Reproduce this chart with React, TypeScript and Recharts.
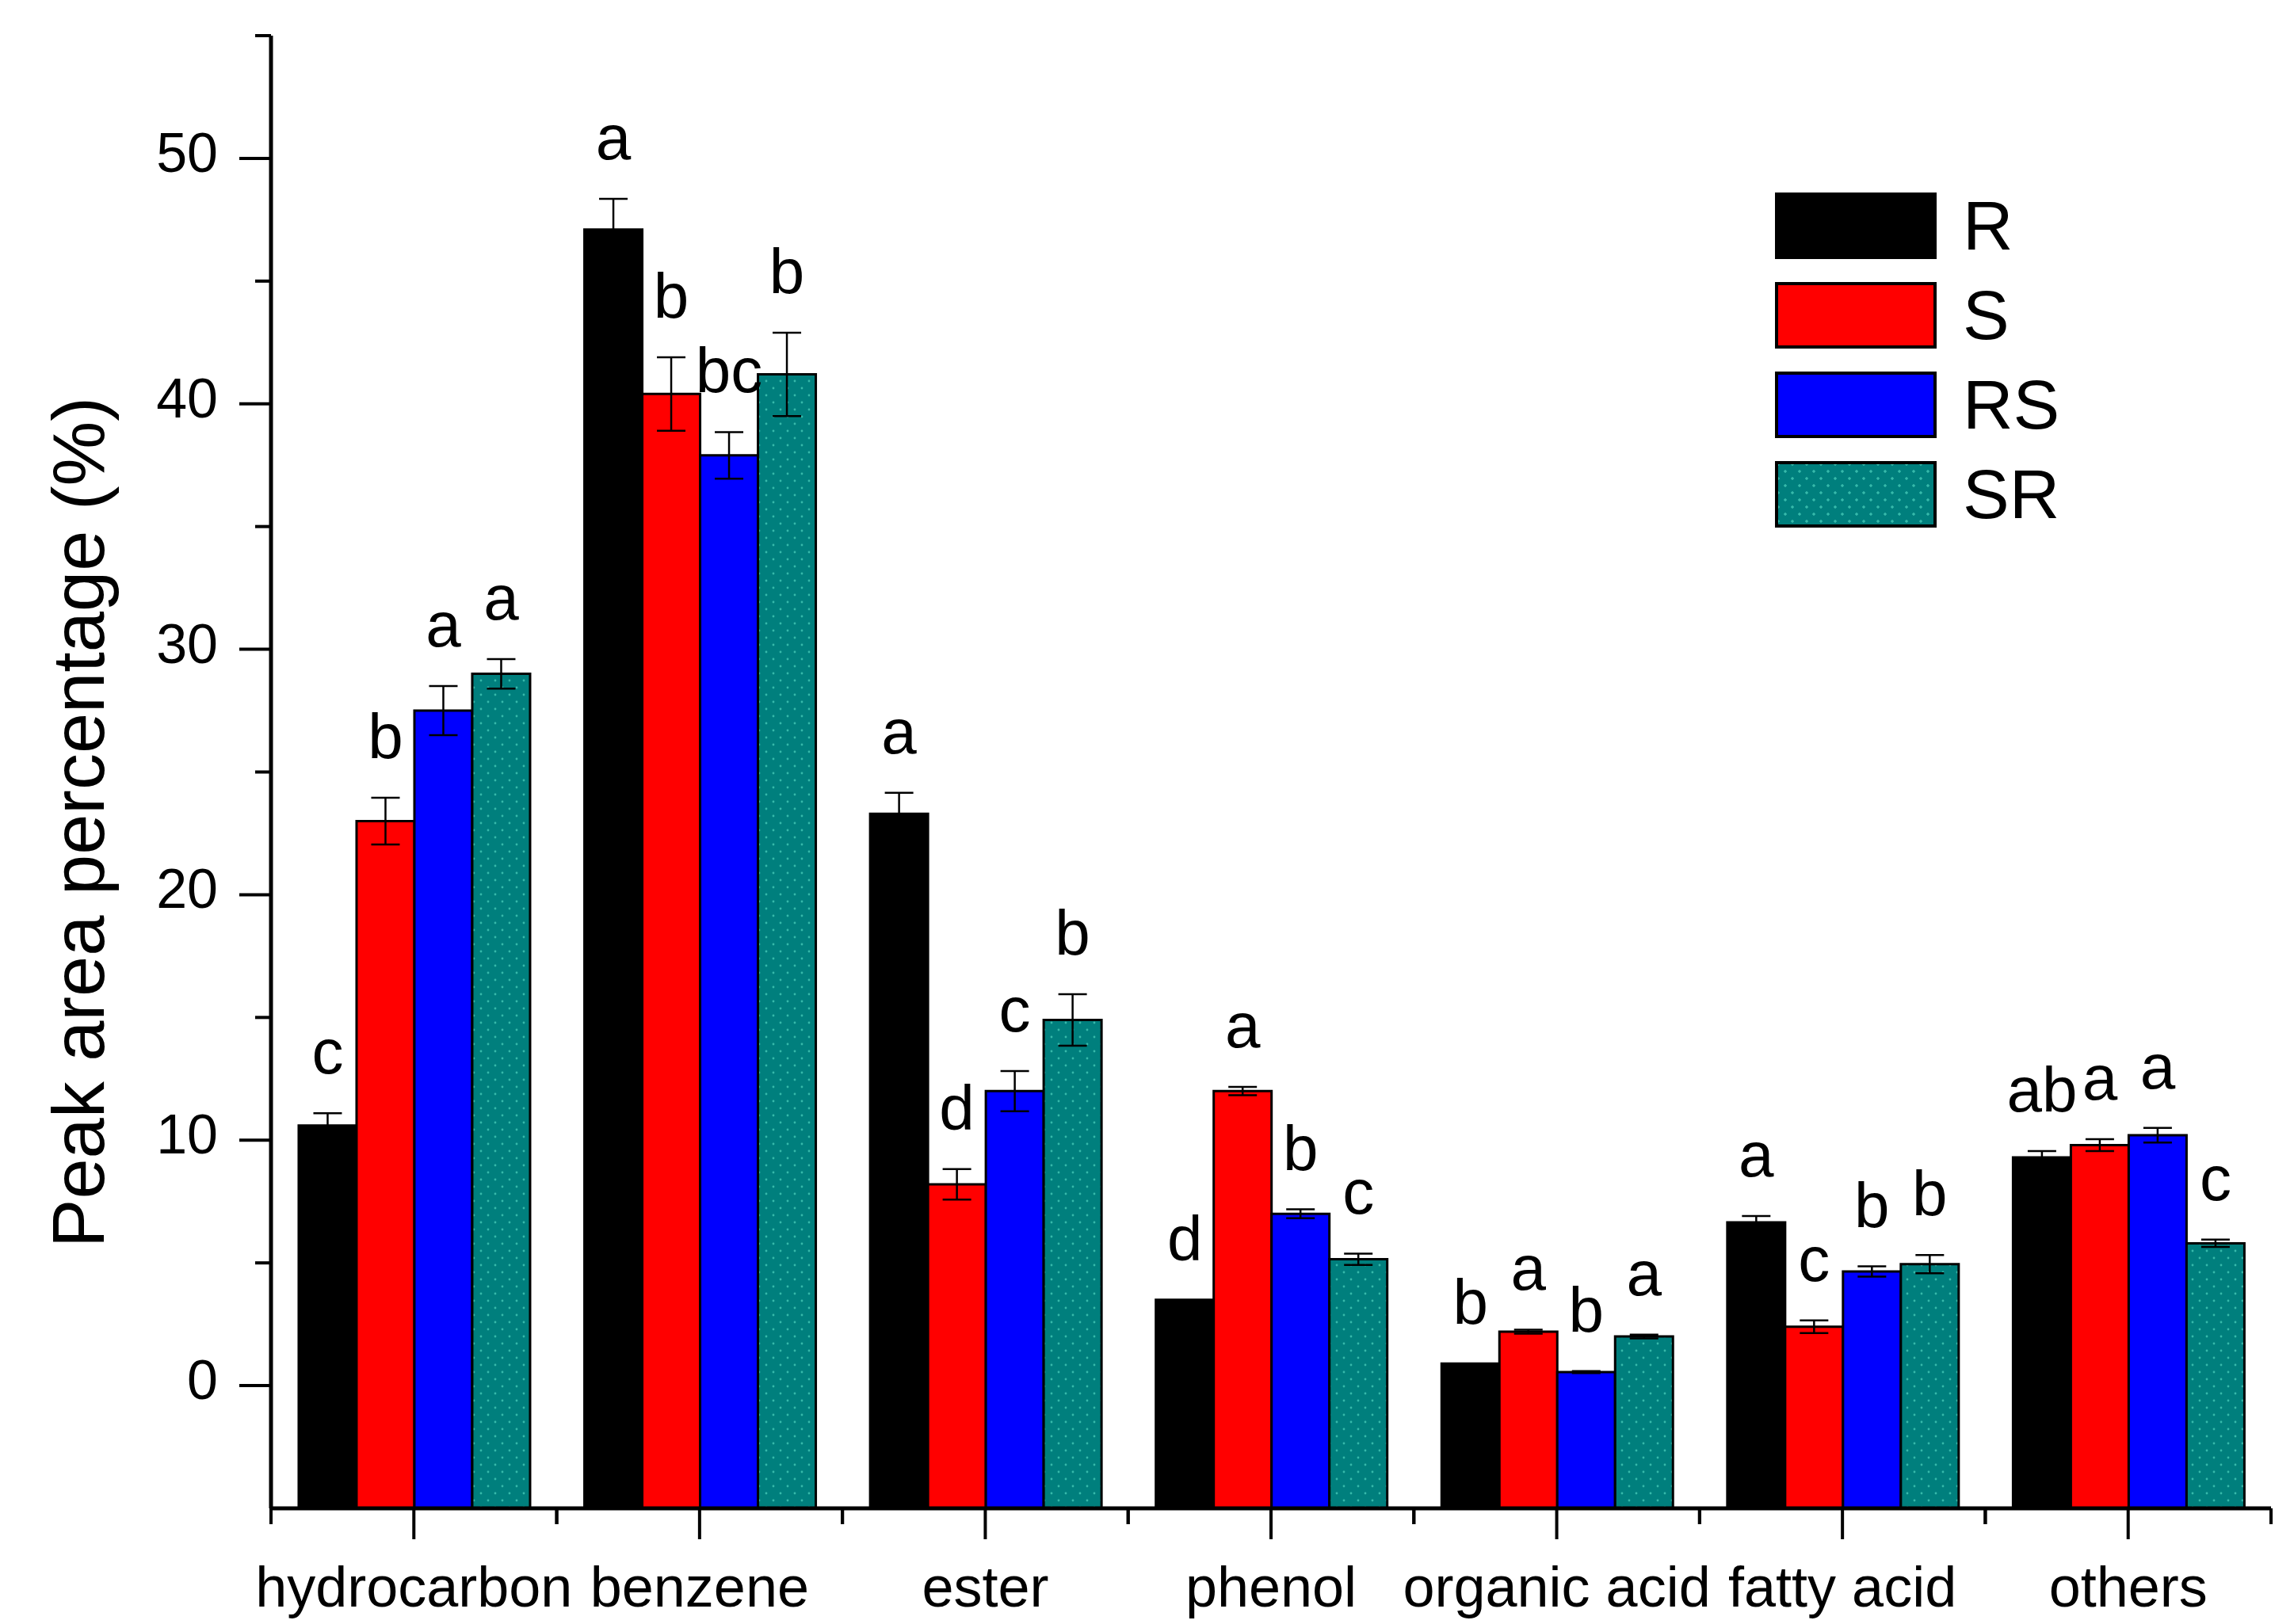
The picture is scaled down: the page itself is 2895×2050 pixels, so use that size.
import React from "react";
import { BarChart, Bar, XAxis, YAxis, ErrorBar, LabelList, Legend, Label } from "recharts";

const FONT = "Arial, 'Liberation Sans', sans-serif";

const categories = ["hydrocarbon", "benzene", "ester", "phenol", "organic acid", "fatty acid", "others"];

const rValues = [10.6, 47.1, 23.3, 3.5, 0.9, 6.65, 9.3];
const sValues = [23.0, 40.4, 8.2, 12.0, 2.2, 2.4, 9.8];
const rsValues = [27.5, 37.9, 12.0, 7.0, 0.55, 4.65, 10.2];
const srValues = [29.0, 41.2, 14.9, 5.15, 2.0, 4.95, 5.8];

const rErrors = [0.5, 1.25, 0.85, 0, 0, 0.26, 0.26];
const sErrors = [0.95, 1.5, 0.62, 0.17, 0.08, 0.26, 0.24];
const rsErrors = [1.0, 0.95, 0.82, 0.18, 0.04, 0.21, 0.3];
const srErrors = [0.6, 1.7, 1.05, 0.23, 0.08, 0.37, 0.15];

const rLetters = ["c", "a", "a", "d", "b", "a", "ab"];
const sLetters = ["b", "b", "d", "a", "a", "c", "a"];
const rsLetters = ["a", "bc", "c", "b", "b", "b", "a"];
const srLetters = ["a", "b", "b", "c", "a", "b", "c"];

const yTicks = [0, 5, 10, 15, 20, 25, 30, 35, 40, 45, 50, 55];
const Y_MIN = -5;
const Y_MAX = 55;

// layout
const W = 2895;
const H = 2050;
const MARGIN = { top: 45, right: 29, left: 0, bottom: 0 };
const Y_AXIS_W = 342;
const X_AXIS_H = 146;
const PX_PER_UNIT = (H - MARGIN.top - X_AXIS_H) / (Y_MAX - Y_MIN);
const HALF_BAND = (W - Y_AXIS_W - MARGIN.right) / categories.length / 2;

const TEAL = "#007f7d";
const DOT = "#36b9aa";

const series = [
  { key: "R", fill: "#000000", css: "#000000", errKey: "rErr", sigKey: "rSig", errs: rErrors },
  { key: "S", fill: "#ff0000", css: "#ff0000", errKey: "sErr", sigKey: "sSig", errs: sErrors },
  { key: "RS", fill: "#0000ff", css: "#0000ff", errKey: "rsErr", sigKey: "rsSig", errs: rsErrors },
  {
    key: "SR",
    fill: "url(#srDots)",
    css: `radial-gradient(circle, ${DOT} 1.4px, transparent 2px) 0 0 / 18px 18px, radial-gradient(circle, ${DOT} 1.4px, transparent 2px) 9px 9px / 18px 18px, ${TEAL}`,
    errKey: "srErr",
    sigKey: "srSig",
    errs: srErrors,
  },
];

const data = categories.map((name, i) => ({
  name,
  R: rValues[i],
  S: sValues[i],
  RS: rsValues[i],
  SR: srValues[i],
  rErr: rErrors[i],
  sErr: sErrors[i],
  rsErr: rsErrors[i],
  srErr: srErrors[i],
  rSig: rLetters[i],
  sSig: sLetters[i],
  rsSig: rsLetters[i],
  srSig: srLetters[i],
}));

const YTick = (props: any) => {
  const { x, y, payload } = props;
  const major = payload.value % 10 === 0;
  return (
    <g>
      <line x1={x} y1={y} x2={x - (major ? 40 : 20)} y2={y} stroke="#000" strokeWidth={4} />
      {major && (
        <text x={x - 67} y={y + 17} textAnchor="end" fontSize={70} fontFamily={FONT} fill="#000">
          {payload.value}
        </text>
      )}
    </g>
  );
};

const XTick = (props: any) => {
  const { x, y, payload } = props;
  return (
    <g>
      <line x1={x} y1={y} x2={x} y2={y + 39} stroke="#000" strokeWidth={4} />
      <line x1={x - HALF_BAND} y1={y} x2={x - HALF_BAND} y2={y + 20} stroke="#000" strokeWidth={4} />
      <line x1={x + HALF_BAND} y1={y} x2={x + HALF_BAND} y2={y + 20} stroke="#000" strokeWidth={4} />
      <text x={x} y={y + 124} textAnchor="middle" fontSize={72} fontFamily={FONT} fill="#000">
        {payload.value}
      </text>
    </g>
  );
};

const makeSigLabel = (errs: number[]) => (props: any) => {
  const vb = props.viewBox && props.viewBox.width !== undefined ? props.viewBox : props;
  const { x, y, width } = vb;
  const idx = props.index ?? 0;
  return (
    <text
      x={x + width / 2}
      y={y - (errs[idx] || 0) * PX_PER_UNIT - 50}
      textAnchor="middle"
      fontSize={80}
      fontFamily={FONT}
      fill="#000"
    >
      {props.value}
    </text>
  );
};

const YTitle = () => (
  <text
    x={131}
    y={1038}
    transform="rotate(-90, 131, 1038)"
    textAnchor="middle"
    fontSize={92}
    fontFamily={FONT}
    fill="#000"
  >
    Peak area percentage (%)
  </text>
);

const LegendBox = () => (
  <div style={{ display: "flex", flexDirection: "column", gap: 29, fontFamily: FONT }}>
    {series.map((s) => (
      <div key={s.key} style={{ display: "flex", alignItems: "center", height: 84 }}>
        <div
          style={{
            width: 204,
            height: 84,
            boxSizing: "border-box",
            border: "4px solid #000",
            background: s.css,
          }}
        />
        <span style={{ marginLeft: 33, fontSize: 88, lineHeight: "84px", color: "#000" }}>{s.key}</span>
      </div>
    ))}
  </div>
);

export default function App() {
  return (
    <div style={{ position: "absolute", left: 0, top: 0, width: W, height: H, background: "#fff" }}>
      <BarChart width={W} height={H} data={data} margin={MARGIN} barCategoryGap="9.7%" barGap={0}>
        <defs>
          <pattern id="srDots" width="18" height="18" patternUnits="userSpaceOnUse">
            <rect width="18" height="18" fill={TEAL} />
            <circle cx="4" cy="4" r="1.4" fill={DOT} />
            <circle cx="13" cy="13" r="1.4" fill={DOT} />
          </pattern>
        </defs>
        <XAxis
          dataKey="name"
          height={X_AXIS_H}
          interval={0}
          tickSize={0}
          tickMargin={0}
          tickLine={false}
          tick={<XTick />}
          axisLine={{ stroke: "#000", strokeWidth: 5 }}
        />
        <YAxis
          type="number"
          domain={[Y_MIN, Y_MAX]}
          ticks={yTicks}
          interval={0}
          allowDataOverflow
          width={Y_AXIS_W}
          tickSize={0}
          tickMargin={0}
          tickLine={false}
          tick={<YTick />}
          axisLine={{ stroke: "#000", strokeWidth: 5 }}
        >
          <Label content={<YTitle />} />
        </YAxis>
        <Legend
          layout="horizontal"
          verticalAlign="middle"
          align="center"
          content={<LegendBox />}
          wrapperStyle={{ left: 2240, top: 243, width: "auto", height: "auto" }}
        />
        {series.map((s) => (
          <Bar
            key={s.key}
            name={s.key}
            dataKey={(d: any) => [Y_MIN, d[s.key]]}
            fill={s.fill}
            stroke="#000"
            strokeWidth={3}
            isAnimationActive={false}
          >
            <ErrorBar dataKey={s.errKey} width={18} stroke="#000" strokeWidth={2.5} direction="y" />
            <LabelList dataKey={s.sigKey} content={makeSigLabel(s.errs)} />
          </Bar>
        ))}
      </BarChart>
    </div>
  );
}
